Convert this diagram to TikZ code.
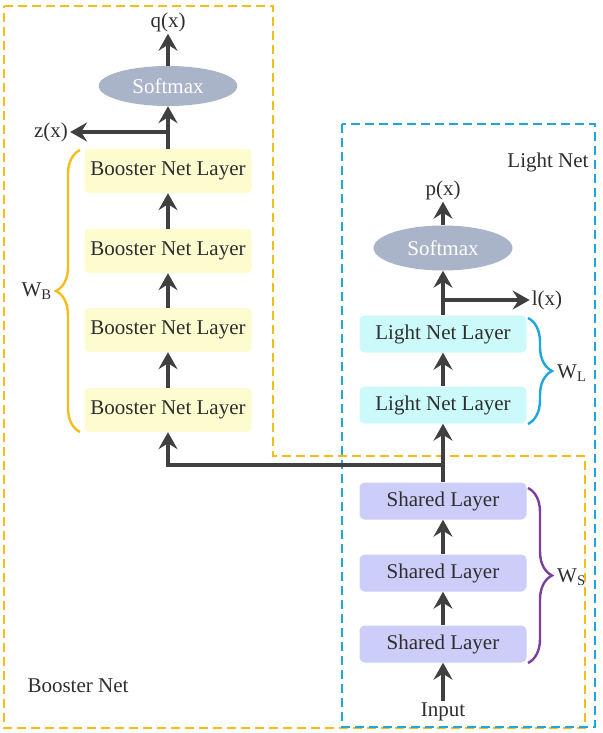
\documentclass[tikz,border=0pt]{standalone}
\usepackage{fontspec}
\setmainfont{Liberation Serif}
\usetikzlibrary{arrows.meta,shapes.geometric,decorations.pathreplacing}

\definecolor{boostfill}{HTML}{FCFCCF}
\definecolor{lightfill}{HTML}{CCFAFA}
\definecolor{sharefill}{HTML}{CDCDFA}
\definecolor{softfill}{HTML}{AAB4C8}
\definecolor{boostline}{HTML}{F7BC1A}
\definecolor{lightline}{HTML}{1FA6DC}
\definecolor{shareline}{HTML}{7A40A0}
\definecolor{arrowgray}{HTML}{404040}
\definecolor{textgray}{HTML}{2E2E2E}

\tikzset{
  layer/.style={rounded corners=5pt, minimum width=167pt, inner sep=0pt, text=textgray},
  boostlayer/.style={layer, fill=boostfill, minimum height=44pt},
  lightlayer/.style={layer, fill=lightfill, minimum height=37pt},
  sharelayer/.style={layer, fill=sharefill, minimum height=37pt},
  softbox/.style={ellipse, fill=softfill, text=white, inner sep=0pt, minimum width=139pt},
  flow/.style={arrowgray, line width=3.2pt, -{Stealth[length=17pt,width=19pt,inset=6pt]}},
  netframe/.style={line width=2.8pt, dash pattern=on 9pt off 5pt},
  wbrace/.style={decorate, decoration={brace, amplitude=24pt}, line width=2.4pt},
  lbl/.style={text=textgray, inner sep=2pt},
}

\begin{document}
\begin{tikzpicture}[x=1pt, y=-1pt, font=\fontsize{21}{25}\selectfont]

    \useasboundingbox (0,0) rectangle (602,733);

    % columns
    \def\bx{168}
    \def\lx{443}

    % frames
    \draw[netframe, boostline] (4,6) -- (273,6) -- (273,456) -- (585,456) -- (585,728) -- (4,728) -- cycle;
    \draw[netframe, lightline] (342,124) rectangle (595,727);
    \node[lbl] (boosttitle) at (78,686) {Booster Net};
    \node[lbl] (lighttitle) at (548,162) {Light Net};

    % booster net
    \foreach \i/\y in {1/410,2/330,3/251,4/171}{
        \node[boostlayer] (b\i) at (\bx,\y) {Booster Net Layer};
    }
    \node[softbox, minimum height=40pt] (bsoft) at (\bx,86) {Softmax};
    \node[lbl] (qx) at (\bx,22) {q(x)};
    \node[lbl] (zx) at (51,132) {z(x)};
    \coordinate (zsplit) at (\bx,132);

    % light net
    \node[lightlayer] (l1) at (\lx,405) {Light Net Layer};
    \node[lightlayer] (l2) at (\lx,334) {Light Net Layer};
    \node[softbox, minimum height=45pt] (lsoft) at (\lx,248) {Softmax};
    \node[lbl] (px) at (\lx,190) {p(x)};
    \node[lbl] (lxout) at (547,300) {l(x)};
    \coordinate (lsplit) at (\lx,300);

    % shared part
    \foreach \i/\y in {1/644,2/573,3/501}{
        \node[sharelayer] (s\i) at (\lx,\y) {Shared Layer};
    }
    \node[lbl] (inp) at (\lx,712) {Input};
    \coordinate (split) at (\lx,465);

    % arrows
    \draw[flow] (inp) -- (s1);
    \draw[flow] (s1) -- (s2);
    \draw[flow] (s2) -- (s3);
    \draw[flow] (s3) -- (l1);
    \draw[flow] (split) -| (b1);
    \foreach \a/\b in {b1/b2,b2/b3,b3/b4,b4/bsoft,bsoft/qx,l1/l2,l2/lsoft,lsoft/px}{
        \draw[flow] (\a) -- (\b);
    }
    \draw[flow] (zsplit) -- (zx);
    \draw[flow] (lsplit) -- (lxout);

    % weights
    \draw[wbrace, boostline] (80,432) -- (80,150);
    \node[lbl, anchor=east] (wb) at (54,291) {W\textsubscript{B}};
    \draw[wbrace, lightline] (528,318) -- (528,424);
    \node[lbl, anchor=west] (wl) at (555,373) {W\textsubscript{L}};
    \draw[wbrace, shareline] (528,488) -- (528,663);
    \node[lbl, anchor=west] (ws) at (555,577) {W\textsubscript{S}};

\end{tikzpicture}
\end{document}
